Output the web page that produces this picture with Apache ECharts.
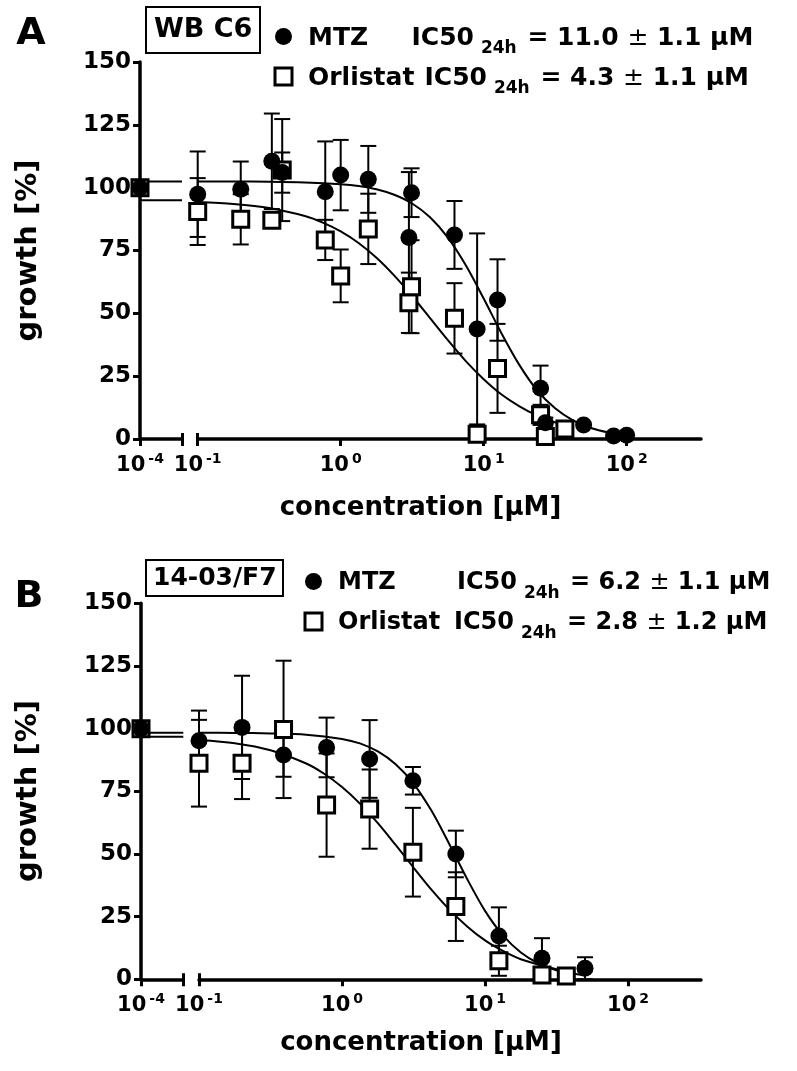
<!DOCTYPE html>
<html><head><meta charset="utf-8">
<script src="https://cdn.jsdelivr.net/npm/echarts@6/dist/echarts.min.js"></script>
<style>html,body{margin:0;padding:0;background:#fff}#c{width:797px;height:1071px}</style>
</head><body><div id="c"></div>
<script>
// ---------- data (concentrations in µM, growth in %) ----------
const ctrlConc = 1e-4;
const ctrlValue = 100;
const breakEndLog = -3.7;

// Panel A – WB C6
const aMtzConc = [0.1, 0.2, 0.33, 0.39, 0.78, 1, 1.56, 3, 3.13, 6.25, 9, 12.5, 25, 27, 50, 81, 100];
const aMtzMean = [97.4, 99.4, 110.5, 106, 98.4, 105, 103.3, 80.2, 98, 81.2, 43.8, 55.3, 20.2, 6.5, 5.6, 1.2, 1.5];
const aMtzSd   = [17, 11, 19, 8, 20, 14, 13.3, 26, 9.7, 13.5, 38, 16.2, 9, 2, 0, 0, 0];
const aOrlConc = [0.1, 0.2, 0.33, 0.39, 0.78, 1, 1.56, 3, 3.13, 6.25, 9, 12.5, 25, 27, 37];
const aOrlMean = [90.5, 87.4, 87, 107, 79.2, 64.9, 83.6, 54.2, 60.6, 48, 1.9, 28.1, 9.6, 1, 4];
const aOrlSd   = [13.3, 10, 3, 20.3, 8, 10.5, 14, 12, 18.5, 14, 0, 17.7, 4, 0, 0];
const aMtzFitConc = [0.1, 0.178, 0.316, 0.562, 1, 1.334, 1.78, 2.371, 3.16, 4.217, 5.62, 7.499, 10, 13.34, 17.8, 23.71, 31.6, 42.17, 56.2, 74.99, 100];
const aMtzFit     = [102.5, 102.5, 102.4, 102.1, 101.4, 100.7, 99.4, 97.2, 93.7, 88.2, 80.1, 69.1, 55.9, 42.0, 29.4, 19.3, 12.2, 7.4, 4.4, 2.6, 1.5];
const aOrlFitConc = [0.1, 0.178, 0.316, 0.562, 0.75, 1, 1.334, 1.78, 2.371, 3.16, 4.217, 5.62, 7.499, 10, 13.34, 17.8, 23.71, 31.6, 37];
const aOrlFit     = [94.3, 93.5, 91.9, 88.7, 86.1, 82.6, 78.0, 72.1, 65.0, 56.9, 48.1, 39.3, 31.0, 23.8, 17.7, 13.0, 9.3, 6.6, 5.4];
const aMtzTop = 102.5, aOrlTop = 95;

// Panel B – 14-03/F7
const bMtzConc = [0.1, 0.2, 0.39, 0.78, 1.56, 3.13, 6.25, 12.5, 25, 50];
const bMtzMean = [95.2, 100.5, 89.5, 92.5, 87.9, 79.2, 50, 17.3, 8.4, 4.4];
const bMtzSd   = [12, 20.6, 8.7, 11.9, 15.5, 5.5, 9.3, 11.4, 8, 4.4];
const bOrlConc = [0.1, 0.2, 0.39, 0.78, 1.56, 3.13, 6.25, 12.5, 25, 37];
const bOrlMean = [86.2, 86.2, 99.7, 69.5, 67.9, 50.7, 29, 7.4, 1.7, 1.3];
const bOrlSd   = [17.3, 14.3, 27.4, 20.6, 15.8, 17.7, 13.7, 6, 0, 0];
const bMtzFitConc = [0.1, 0.178, 0.316, 0.562, 1, 1.334, 1.78, 2.371, 3.16, 4.217, 5.62, 7.499, 10, 13.34, 17.8, 23.71, 31.6, 50];
const bMtzFit     = [98.4, 98.3, 98.1, 97.6, 95.9, 94.1, 90.9, 85.8, 78.1, 67.3, 54.0, 40.0, 27.3, 17.5, 10.7, 6.3, 3.6, 1.5];
const bOrlFitConc = [0.1, 0.178, 0.316, 0.562, 0.75, 1, 1.334, 1.78, 2.371, 3.16, 4.217, 5.62, 7.499, 10, 13.34, 17.8, 31.6, 40];
const bOrlFit     = [95.5, 94.2, 91.4, 86.1, 82.0, 76.7, 70.1, 62.3, 53.6, 44.6, 35.8, 27.9, 21.1, 15.5, 11.3, 8.0, 4.0, 3.0];
const bMtzTop = 98.4, bOrlTop = 96.8;

// axis ticks (log10 exponents)
const ctrlTickExp = [-4];
const mainTickExp = [-1, 0, 1, 2];

// ---------- helpers ----------
const FF = "'DejaVu Sans', sans-serif";
const L = Math.log10;
const pts = (c, v) => c.map((x, i) => [L(x), v[i]]);
const bars = (c, m, s) => c.map((x, i) => [L(x), m[i], s[i]]).filter(d => d[2] > 0);

function errRender(params, api) {
  const x = api.value(0), m = api.value(1), s = api.value(2);
  const t = api.coord([x, m + s]), b = api.coord([x, m - s]);
  const st = { stroke: '#000', lineWidth: 2 };
  return { type: 'group', children: [
    { type: 'line', shape: { x1: t[0], y1: t[1], x2: b[0], y2: b[1] }, style: st },
    { type: 'line', shape: { x1: t[0] - 8, y1: t[1], x2: t[0] + 8, y2: t[1] }, style: st },
    { type: 'line', shape: { x1: b[0] - 8, y1: b[1], x2: b[0] + 8, y2: b[1] }, style: st }
  ]};
}

const axLine = { show: true, onZero: false, lineStyle: { color: '#000', width: 3.5 } };
const tickStyle = { color: '#000', width: 3 };
const xRich = {
  b: { fontFamily: FF, fontWeight: 'bold', fontSize: 21, lineHeight: 24, verticalAlign: 'bottom', color: '#000' },
  s: { fontFamily: FF, fontWeight: 'bold', fontSize: 14, lineHeight: 14, verticalAlign: 'top', padding: [0, 0, 0, 3], color: '#000' }
};
const xFmt = v => '{b|10}{s|' + v + '}';

function xAxes(g0, g1, mainMax) {
  return [
    { gridIndex: g0, type: 'value', min: L(ctrlConc), max: breakEndLog, axisLine: axLine,
      axisTick: { show: true, length: 7, lineStyle: tickStyle, customValues: [L(ctrlConc), breakEndLog] },
      axisLabel: { customValues: ctrlTickExp, formatter: xFmt, rich: xRich, margin: 13 },
      splitLine: { show: false } },
    { gridIndex: g1, type: 'value', min: -1, max: mainMax, axisLine: axLine,
      axisTick: { show: true, length: 7, lineStyle: tickStyle, customValues: mainTickExp },
      axisLabel: { customValues: mainTickExp, formatter: xFmt, rich: xRich, margin: 13 },
      splitLine: { show: false } }
  ];
}
// inner halves of the break caps
function capAxes(g0, g1, mainMax) {
  const base = { type: 'value', position: 'bottom', axisLine: { show: false }, axisLabel: { show: false }, splitLine: { show: false } };
  return [
    Object.assign({}, base, { gridIndex: g0, min: L(ctrlConc), max: breakEndLog,
      axisTick: { show: true, inside: true, length: 6, lineStyle: tickStyle, customValues: [breakEndLog] } }),
    Object.assign({}, base, { gridIndex: g1, min: -1, max: mainMax,
      axisTick: { show: true, inside: true, length: 6, lineStyle: tickStyle, customValues: [-1] } })
  ];
}
function yAxes(g0, g1) {
  return [
    { gridIndex: g0, type: 'value', min: 0, max: 150, interval: 25, axisLine: axLine,
      axisTick: { show: true, length: 7, lineStyle: tickStyle },
      axisLabel: { margin: 9, color: '#000', fontFamily: FF, fontWeight: 'bold', fontSize: 23 },
      splitLine: { show: false } },
    { gridIndex: g1, type: 'value', min: 0, max: 150, interval: 25, show: false, splitLine: { show: false } }
  ];
}

function panelSeries(ci, mi, d) {
  const lineBase = { type: 'line', showSymbol: false, silent: true, clip: false,
    lineStyle: { color: '#000', width: 2 }, z: 1 };
  const circ = { type: 'scatter', name: 'MTZ', symbol: 'circle', symbolSize: 17, clip: false,
    itemStyle: { color: '#000', opacity: 1 }, silent: true };
  const sq = { type: 'scatter', name: 'Orlistat', symbol: 'rect', symbolSize: 16, clip: false,
    itemStyle: { color: '#fff', borderColor: '#000', borderWidth: 3, opacity: 1 }, silent: true };
  const err = { type: 'custom', renderItem: errRender, silent: true, encode: { x: 0, y: 1 } };
  return [
    Object.assign({}, lineBase, { name: 'MTZ fit', xAxisIndex: mi, yAxisIndex: mi, smooth: 0.3,
      data: pts(d.mtzFitConc, d.mtzFit) }),
    Object.assign({}, lineBase, { name: 'Orlistat fit', xAxisIndex: mi, yAxisIndex: mi, smooth: 0.3,
      data: pts(d.orlFitConc, d.orlFit) }),
    Object.assign({}, lineBase, { name: 'MTZ fit', xAxisIndex: ci, yAxisIndex: ci,
      data: [[L(ctrlConc), d.mtzTop], [breakEndLog, d.mtzTop]] }),
    Object.assign({}, lineBase, { name: 'Orlistat fit', xAxisIndex: ci, yAxisIndex: ci,
      data: [[L(ctrlConc), d.orlTop], [breakEndLog, d.orlTop]] }),
    Object.assign({}, err, { name: 'Orlistat sd', xAxisIndex: mi, yAxisIndex: mi, data: bars(d.orlConc, d.orlMean, d.orlSd) }),
    Object.assign({}, sq, { xAxisIndex: mi, yAxisIndex: mi, data: pts(d.orlConc, d.orlMean) }),
    Object.assign({}, err, { name: 'MTZ sd', xAxisIndex: mi, yAxisIndex: mi, data: bars(d.mtzConc, d.mtzMean, d.mtzSd) }),
    Object.assign({}, circ, { xAxisIndex: mi, yAxisIndex: mi, data: pts(d.mtzConc, d.mtzMean) }),
    Object.assign({}, sq, { xAxisIndex: ci, yAxisIndex: ci, data: [[L(ctrlConc), ctrlValue]] }),
    Object.assign({}, circ, { xAxisIndex: ci, yAxisIndex: ci, data: [[L(ctrlConc), ctrlValue]] })
  ];
}

function legendRich(size, w1, w2) {
  const main = { fontFamily: FF, fontWeight: 'bold', fontSize: size, lineHeight: 28, verticalAlign: 'top', color: '#000', padding: [3.5, 0, 0, 0] };
  return {
    m: Object.assign({}, main, { width: w1, padding: [3.5, 0, 0, 11] }),
    o: Object.assign({}, main, { width: w2, padding: [3.5, 0, 0, 11] }),
    ic: Object.assign({}, main),
    eq: Object.assign({}, main),
    pm: Object.assign({}, main, { fontWeight: 'normal' }),
    sub: { fontFamily: FF, fontWeight: 'bold', fontSize: 17, lineHeight: 17, verticalAlign: 'top', color: '#000', padding: [18, 2, 0, 7] }
  };
}
function legendFor(left, top, size, w1, w2, ic1, ic2) {
  return {
    left: left, top: top, orient: 'vertical', padding: 0, itemWidth: 17, itemHeight: 17, itemGap: 5,
    selectedMode: false,
    data: [
      { name: 'MTZ', icon: 'circle', itemStyle: { color: '#000', borderWidth: 0, opacity: 1 } },
      { name: 'Orlistat', icon: 'rect', itemStyle: { color: '#fff', borderColor: '#000', borderWidth: 3, opacity: 1 } }
    ],
    formatter: n => n === 'MTZ'
      ? '{m|MTZ}{ic|IC50}{sub|24h}{eq| = ' + ic1[0] + ' }{pm|±}{eq| ' + ic1[1] + ' µM}'
      : '{o|Orlistat}{ic|IC50}{sub|24h}{eq| = ' + ic2[0] + ' }{pm|±}{eq| ' + ic2[1] + ' µM}',
    textStyle: { rich: legendRich(size, w1, w2) }
  };
}

const icA = [['11.0', '1.1'], ['4.3', '1.1']];
const icB = [['6.2', '1.1'], ['2.8', '1.2']];

const dataA = { mtzConc: aMtzConc, mtzMean: aMtzMean, mtzSd: aMtzSd, orlConc: aOrlConc, orlMean: aOrlMean, orlSd: aOrlSd,
  mtzFitConc: aMtzFitConc, mtzFit: aMtzFit, orlFitConc: aOrlFitConc, orlFit: aOrlFit, mtzTop: aMtzTop, orlTop: aOrlTop };
const dataB = { mtzConc: bMtzConc, mtzMean: bMtzMean, mtzSd: bMtzSd, orlConc: bOrlConc, orlMean: bOrlMean, orlSd: bOrlSd,
  mtzFitConc: bMtzFitConc, mtzFit: bMtzFit, orlFitConc: bOrlFitConc, orlFit: bOrlFit, mtzTop: bMtzTop, orlTop: bOrlTop };

const boxTitle = (text, left, top, size, lh, pad) => ({
  text: text, left: left, top: top, borderColor: '#000', borderWidth: 2, padding: pad,
  textStyle: { fontFamily: FF, fontWeight: 'bold', fontSize: size, lineHeight: lh, color: '#000' }
});
const txt = (text, x, y, size, rot) => ({
  type: 'text', x: x, y: y, rotation: rot || 0, silent: true,
  style: { text: text, fill: '#000', font: 'bold ' + size + 'px ' + FF, textAlign: 'center', textVerticalAlign: 'middle' }
});

const option = {
  backgroundColor: '#fff',
  animation: false,
  title: [
    boxTitle('WB C6', 146, 7, 27, 34, [6, 8]),
    boxTitle('14-03/F7', 146, 560, 25, 30, [3, 7])
  ],
  legend: [
    legendFor(273.5, 22.5, 25, 103.5, 116.5, icA[0], icA[1]),
    legendFor(303.5, 567.5, 24, 119, 116, icB[0], icB[1])
  ],
  grid: [
    { left: 140, top: 62, width: 42, height: 377 },
    { left: 197.7, top: 62, width: 503.3, height: 377 },
    { left: 141, top: 603.3, width: 42.3, height: 376 },
    { left: 199, top: 603.3, width: 502, height: 376 }
  ],
  xAxis: xAxes(0, 1, 2.52).concat(xAxes(2, 3, 2.51), capAxes(0, 1, 2.52), capAxes(2, 3, 2.51)),
  yAxis: yAxes(0, 1).concat(yAxes(2, 3)),
  series: panelSeries(0, 1, dataA).concat(panelSeries(2, 3, dataB)),
  graphic: [
    txt('A', 31, 34, 38),
    txt('B', 29, 597, 38),
    txt('growth [%]', 28, 250.5, 29, Math.PI / 2),
    txt('growth [%]', 28, 791, 29, Math.PI / 2),
    txt('concentration [µM]', 420.5, 508, 26),
    txt('concentration [µM]', 421, 1043, 26)
  ]
};

const chart = echarts.init(document.getElementById('c'), null, { renderer: 'canvas' });
chart.setOption(option);
</script></body></html>
